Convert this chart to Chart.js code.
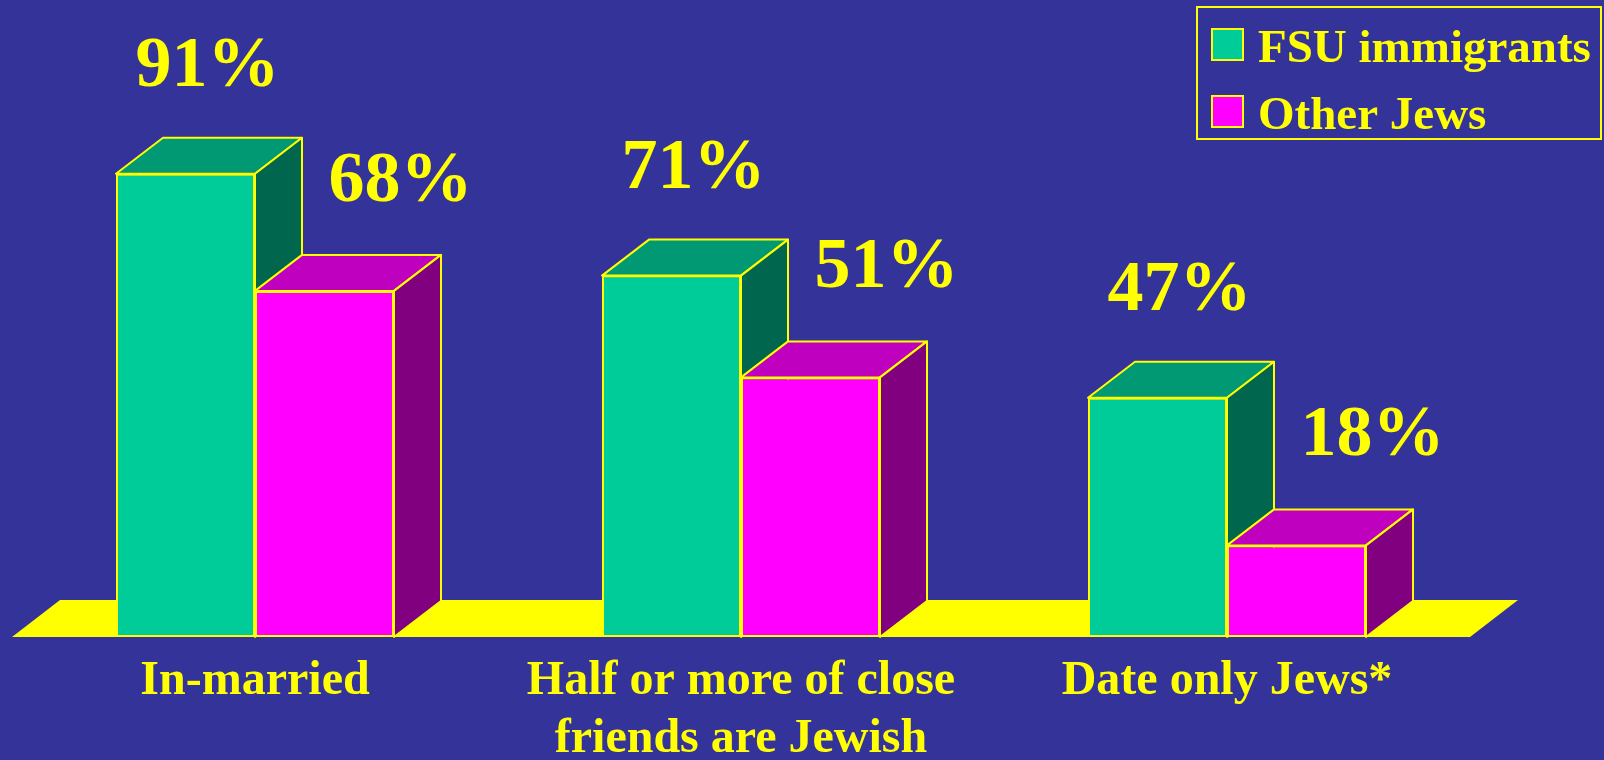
<!DOCTYPE html>
<html>
<head>
<meta charset="utf-8">
<title>Jewish ties</title>
<script src="https://cdn.jsdelivr.net/npm/chart.js@4/dist/chart.umd.min.js"></script>
<style>
  html, body { margin: 0; padding: 0; background: #333399; overflow: hidden; }
  #wrap { position: relative; width: 1604px; height: 760px; }
</style>
</head>
<body>
<div id="wrap"><canvas id="chart"></canvas></div>
<script>
'use strict';

const CATEGORIES = ['In-married', ['Half or more of close', 'friends are Jewish'], 'Date only Jews*'];
const FSU_VALUES   = [91, 71, 47];
const OTHER_VALUES = [68, 51, 18];
const SERIES_NAMES = ['FSU immigrants', 'Other Jews'];

const YELLOW = '#ffff00';
const SERIF  = "'Times New Roman', 'Liberation Serif', serif";

// front / top / side shades for each series
const SHADES = [
    { front: '#00cc99', top: '#009973', side: '#00664d' },
    { front: '#ff00ff', top: '#bf00bf', side: '#800080' },
];

const DEPTH = { dx: 47, dy: -36 };

// ── Floor slab under the bars ────────────────────────────────────────────────

const floorPlugin = {
    id: 'floor',
    beforeDatasetsDraw(chart) {
        const { ctx, chartArea: a } = chart;
        const bottom = chart.scales.y.getPixelForValue(0);
        ctx.save();
        ctx.fillStyle = YELLOW;
        ctx.beginPath();
        ctx.moveTo(a.left, bottom);
        ctx.lineTo(a.left + DEPTH.dx + 1, bottom + DEPTH.dy - 1);
        ctx.lineTo(a.right + DEPTH.dx + 1, bottom + DEPTH.dy - 1);
        ctx.lineTo(a.right, bottom);
        ctx.closePath();
        ctx.fill();
        ctx.restore();
    }
};

// ── Boxes: Chart.js draws the last dataset first, so repaint every series
//    left to right (front, then top and side) to get the overlaps right ─────

function drawFaces(ctx, bar, shade) {
    const { x, y, base, width } = bar.getProps(['x', 'y', 'base', 'width'], true);
    const l = x - width / 2, r = x + width / 2;
    const { dx, dy } = DEPTH;

    ctx.fillStyle = shade.top;
    ctx.beginPath();
    ctx.moveTo(l, y);
    ctx.lineTo(l + dx, y + dy);
    ctx.lineTo(r + dx, y + dy);
    ctx.lineTo(r, y);
    ctx.closePath();
    ctx.fill();
    ctx.stroke();

    ctx.fillStyle = shade.side;
    ctx.beginPath();
    ctx.moveTo(r, y);
    ctx.lineTo(r + dx, y + dy);
    ctx.lineTo(r + dx, base + dy);
    ctx.lineTo(r, base);
    ctx.closePath();
    ctx.fill();
    ctx.stroke();
}

const boxPlugin = {
    id: 'box3d',
    afterDatasetsDraw(chart) {
        const { ctx } = chart;
        chart.data.datasets.forEach((ds, i) => {
            const meta = chart.getDatasetMeta(i);
            meta.data.forEach(bar => {
                bar.draw(ctx);
                ctx.save();
                ctx.strokeStyle = YELLOW;
                ctx.lineWidth = 2;
                ctx.lineJoin = 'round';
                drawFaces(ctx, bar, SHADES[i]);
                ctx.restore();
            });
        });
    }
};

// ── Percentage labels above the boxes ───────────────────────────────────────

const valuePlugin = {
    id: 'values',
    afterDatasetsDraw(chart, args, opts) {
        const { ctx } = chart;
        ctx.save();
        ctx.fillStyle = YELLOW;
        ctx.font = `bold 72px ${SERIF}`;
        ctx.textAlign = 'center';
        ctx.textBaseline = 'alphabetic';
        chart.data.datasets.forEach((ds, i) => {
            const off = opts.offsets[i];
            chart.getDatasetMeta(i).data.forEach((bar, j) => {
                ctx.fillText(ds.data[j] + '%', bar.x + off.x, bar.y + off.y);
            });
        });
        ctx.restore();
    }
};

// ── Boxed legend, top right ─────────────────────────────────────────────────

const legendPlugin = {
    id: 'boxLegend',
    afterDraw(chart) {
        const { ctx } = chart;
        ctx.save();
        ctx.strokeStyle = YELLOW;
        ctx.lineWidth = 2;
        ctx.strokeRect(1197, 7, 404, 132);
        ctx.font = `bold 47px ${SERIF}`;
        ctx.textBaseline = 'alphabetic';
        chart.data.datasets.forEach((ds, i) => {
            const top = 29 + i * 67;
            ctx.fillStyle = ds.backgroundColor;
            ctx.fillRect(1212, top, 31, 31);
            ctx.strokeRect(1212, top, 31, 31);
            ctx.fillStyle = YELLOW;
            ctx.fillText(ds.label, 1258, top + 33);
        });
        ctx.restore();
    }
};

function makeDataset(label, values, i) {
    return {
        label,
        data: values,
        backgroundColor: SHADES[i].front,
        borderColor: YELLOW,
        borderWidth: 2,
        borderSkipped: false,
        categoryPercentage: 0.572,
        barPercentage: 1,
    };
}

new Chart(document.getElementById('chart'), {
    type: 'bar',
    data: {
        labels: CATEGORIES,
        datasets: [
            makeDataset(SERIES_NAMES[0], FSU_VALUES, 0),
            makeDataset(SERIES_NAMES[1], OTHER_VALUES, 1),
        ]
    },
    options: {
        responsive: true,
        maintainAspectRatio: false,
        animation: false,
        layout: { padding: { top: 128, left: 12, right: 134, bottom: 0 } },
        plugins: {
            legend: { display: false },
            tooltip: { enabled: false },
            values: { offsets: [{ x: 22, y: -88 }, { x: 76, y: -90 }] },
        },
        scales: {
            x: {
                grid: { display: false, drawTicks: false },
                border: { display: false },
                ticks: {
                    color: YELLOW,
                    font: { family: SERIF, size: 48, weight: 'bold', lineHeight: 1.2 },
                    padding: 16,
                    maxRotation: 0,
                    autoSkip: false,
                },
                afterFit: scale => { scale.height = 123; },
            },
            y: { display: false, min: 0, max: 100 },
        }
    },
    plugins: [floorPlugin, boxPlugin, valuePlugin, legendPlugin]
});
</script>
</body>
</html>
